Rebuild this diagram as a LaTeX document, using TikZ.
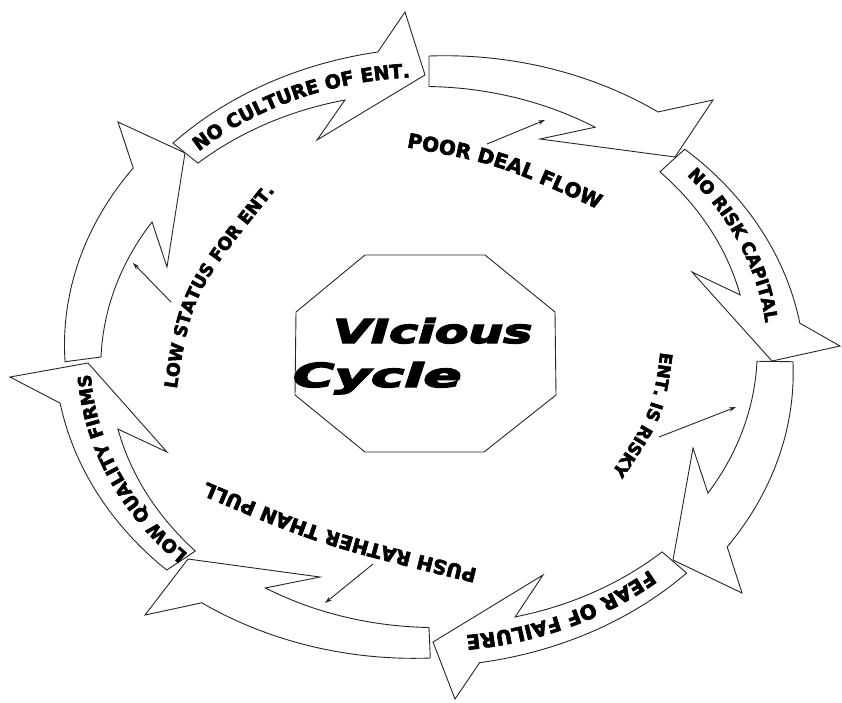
\documentclass[tikz,border=0pt]{standalone}
\usepackage{fontspec}
\usepackage{graphicx}
\usetikzlibrary{decorations.text,arrows.meta}
\newfontface\heavyfont{DejaVu Sans Bold}[FakeBold=3]
\newfontface\heavyit{DejaVu Sans Bold Oblique}[FakeBold=4]
\newcommand\lbx{\heavyfont}
\begin{document}
\begin{tikzpicture}[x=1pt,y=-1pt,
  ringarrow/.style={draw=black!85, line width=0.9pt, fill=white, line join=miter, samples=40, variable=\ang},
  pointer/.style={draw=black!85, line width=0.9pt, -{Stealth[length=7pt,width=4.5pt]}},
  octline/.style={draw=black!85, line width=0.9pt},
  bannertext/.style={decorate, decoration={text along path, text align=center, text={#1}}},
  declare function={rr(\pa,\pb,\pc,\pd,\pe)=\pd+(\pe-\pd)*(\pa-\pb)/(\pc-\pb);}
]
\useasboundingbox (0,0) rectangle (842,702);

% ---- ring of eight arrows (clockwise) ----
% A1 top plain arrow
\draw[ringarrow] plot[domain=-90:-52.3] ({429+364*rr(\ang,-90,-52.3,1,1.029)*cos(\ang)},{357+301*rr(\ang,-90,-52.3,1,1.029)*sin(\ang)})
  -- (713,100) -- (675,157) -- (540,139)
  -- plot[domain=-59.2:-90] ({429+328*rr(\ang,-90,-59.2,1,0.989)*cos(\ang)},{357+270.5*rr(\ang,-90,-59.2,1,0.989)*sin(\ang)}) -- cycle;
% A2 banner NO RISK CAPITAL
\draw[ringarrow] plot[domain=-44.5:-6.3] ({429+364*rr(\ang,-44.5,-6.3,0.985,1.025)*cos(\ang)},{357+301*rr(\ang,-44.5,-6.3,0.985,1.025)*sin(\ang)})
  -- (840,346) -- (772,361) -- (692,272)
  -- plot[domain=-13.6:-44.2] ({429+328*rr(\ang,-44.2,-13.6,0.982,0.976)*cos(\ang)},{357+270.5*rr(\ang,-44.2,-13.6,0.982,0.976)*sin(\ang)}) -- cycle;
% A3 right plain arrow
\draw[ringarrow] plot[domain=0.9:37.6] ({429+364*rr(\ang,0.9,37.6,1,1.034)*cos(\ang)},{357+301*rr(\ang,0.9,37.6,1,1.034)*sin(\ang)})
  -- (742,593) -- (673,560) -- (693,448)
  -- plot[domain=30.6:0.9] ({429+328*rr(\ang,0.9,30.6,1,0.988)*cos(\ang)},{357+270.5*rr(\ang,0.9,30.6,1,0.988)*sin(\ang)}) -- cycle;
% A4 banner FEAR OF FAILURE
\draw[ringarrow] plot[domain=45.4:82.2] ({429+364*rr(\ang,45.4,82.2,1.008,1.025)*cos(\ang)},{357+301*rr(\ang,45.4,82.2,1.008,1.025)*sin(\ang)})
  -- (455,699) -- (433,642) -- (543,575)
  -- plot[domain=74.7:45.4] ({429+328*rr(\ang,45.4,74.7,1.012,0.996)*cos(\ang)},{357+270.5*rr(\ang,45.4,74.7,1.012,0.996)*sin(\ang)}) -- cycle;
% A5 bottom plain arrow
\draw[ringarrow] plot[domain=89.8:127.4] ({429+364*rr(\ang,89.8,127.4,1,1.028)*cos(\ang)},{357+301*rr(\ang,89.8,127.4,1,1.028)*sin(\ang)})
  -- (145,615) -- (188,559) -- (320,577)
  -- plot[domain=120.3:90] ({429+328*rr(\ang,90,120.3,1,0.989)*cos(\ang)},{357+270.5*rr(\ang,90,120.3,1,0.989)*sin(\ang)}) -- cycle;
% A6 banner LOW QUALITY FIRMS
\draw[ringarrow] plot[domain=135.5:171.4] ({429+364*rr(\ang,135.5,171.4,1.01,1.025)*cos(\ang)},{357+301*rr(\ang,135.5,171.4,1.01,1.025)*sin(\ang)})
  -- (10,377) -- (88,363) -- (167,452)
  -- plot[domain=164.3:134.8] ({429+328*rr(\ang,134.8,164.3,1.011,0.985)*cos(\ang)},{357+270.5*rr(\ang,134.8,164.3,1.011,0.985)*sin(\ang)}) -- cycle;
% A7 left plain arrow
\draw[ringarrow] plot[domain=179.1:217.7] ({429+364*rr(\ang,179.1,217.7,1,1.027)*cos(\ang)},{357+301*rr(\ang,179.1,217.7,1,1.027)*sin(\ang)})
  -- (118,122) -- (185,153) -- (167,267)
  -- plot[domain=210.6:180] ({429+328*rr(\ang,180,210.6,1,0.981)*cos(\ang)},{357+270.5*rr(\ang,180,210.6,1,0.981)*sin(\ang)}) -- cycle;
% A8 banner NO CULTURE OF ENT.
\draw[ringarrow] plot[domain=225.3:262.1] ({429+364*rr(\ang,225.3,262.1,1,1.023)*cos(\ang)},{357+301*rr(\ang,225.3,262.1,1,1.023)*sin(\ang)})
  -- (405,12) -- (425,75) -- (317,140)
  -- plot[domain=254.9:225.5] ({429+328*rr(\ang,225.5,254.9,1.005,0.984)*cos(\ang)},{357+270.5*rr(\ang,225.5,254.9,1.005,0.984)*sin(\ang)}) -- cycle;

% ---- banner texts ----
\path[bannertext={|\lbx\fontsize{19pt}{19pt}\selectfont|NO CULTURE OF ENT.}]
  plot[samples=60, variable=\ang, domain=216:277] ({429+339*cos(\ang)},{357+280*sin(\ang)});
\path[bannertext={|\lbx\fontsize{17.5pt}{17.5pt}\selectfont|NO RISK CAPITAL}]
  plot[samples=60, variable=\ang, domain=-53:7] ({429+339*cos(\ang)},{357+280*sin(\ang)});
\path[bannertext={|\lbx\fontsize{20pt}{20pt}\selectfont|FEAR OF FAILURE}]
  plot[samples=60, variable=\ang, domain=36:96] ({429+339*cos(\ang)},{357+280*sin(\ang)});
\path[bannertext={|\lbx\fontsize{18pt}{18pt}\selectfont|LOW QUALITY FIRMS}]
  plot[samples=60, variable=\ang, domain=126:187] ({429+339*cos(\ang)},{357+280*sin(\ang)});

% ---- inner labels ----
\path[bannertext={|\lbx\fontsize{20pt}{20pt}\selectfont|POOR DEAL FLOW}]
  (388,144) .. controls (498.5,163.5) .. (615,217);
\path[bannertext={|\lbx\fontsize{17pt}{17pt}\selectfont|ENT. IS RISKY}]
  (662,340) .. controls (652.5,413) .. (605,482);
\path[bannertext={|\lbx\fontsize{19.5pt}{19.5pt}\selectfont|PUSH RATHER THAN PULL}]
  (490,572) .. controls (323.5,531.5) .. (195,477);
\path[bannertext={|\lbx\fontsize{17.5pt}{17.5pt}\selectfont|LOW STATUS FOR ENT.}]
  (175,400) .. controls (191.5,293) .. (282,182);

% ---- pointer arrows ----
\coordinate (p1s) at (487,144); \coordinate (p1e) at (545,120);
\coordinate (p2s) at (659,437); \coordinate (p2e) at (736,407);
\coordinate (p3s) at (373,564); \coordinate (p3e) at (325,603);
\coordinate (p4s) at (171,302); \coordinate (p4e) at (133,263);
\draw[pointer] (p1s) -- (p1e);
\draw[pointer] (p2s) -- (p2e);
\draw[pointer] (p3s) -- (p3e);
\draw[pointer] (p4s) -- (p4e);

% ---- central octagon ----
\coordinate (o1) at (365,255); \coordinate (o2) at (485,255);
\coordinate (o3) at (555,312); \coordinate (o4) at (556,395);
\coordinate (o5) at (484,452); \coordinate (o6) at (365,452);
\coordinate (o7) at (295,395); \coordinate (o8) at (296,312);
\draw[octline] (o1) -- (o2) -- (o3) -- (o4) -- (o5) -- (o6) -- (o7) -- (o8) -- cycle;
\node[anchor=base west, inner sep=0pt] (vicious) at (333,343)
  {\scalebox{1.48}[1]{\heavyit\fontsize{33pt}{33pt}\selectfont VIcious}};
\node[anchor=base west, inner sep=0pt] (cycle) at (293,387)
  {\scalebox{1.7}[1]{\heavyit\fontsize{33pt}{33pt}\selectfont Cycle}};
\end{tikzpicture}
\end{document}
